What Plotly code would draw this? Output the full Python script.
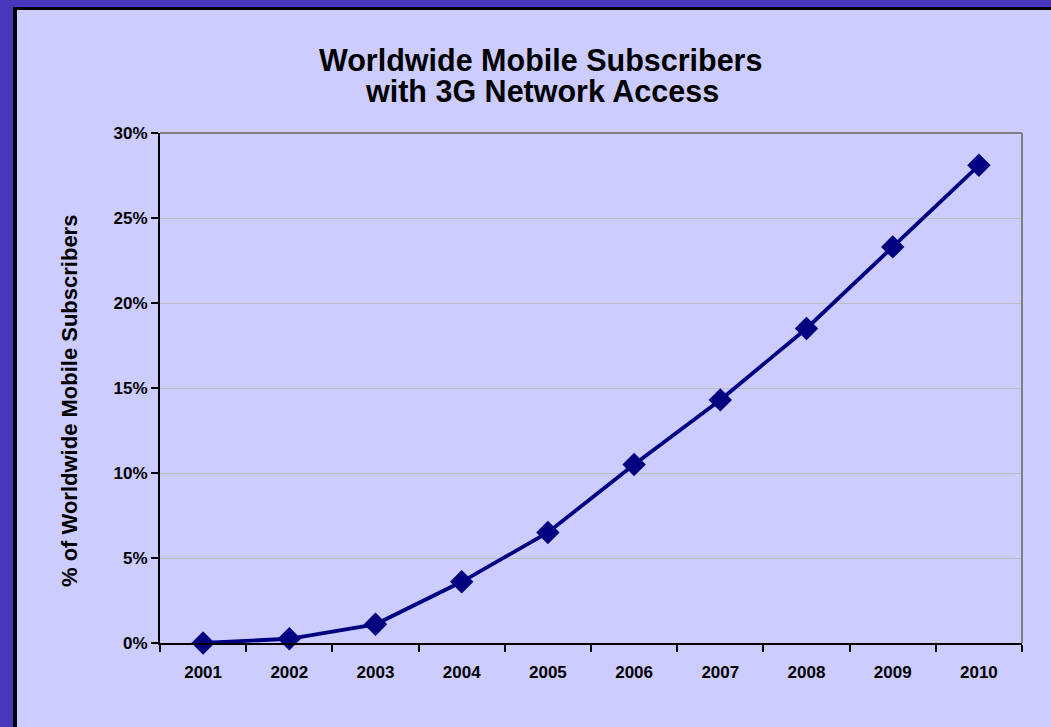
import plotly.graph_objects as go

# Share of worldwide mobile subscribers with 3G access, by year
years = ["2001", "2002", "2003", "2004", "2005", "2006", "2007", "2008", "2009", "2010"]
share_pct = [0.0, 0.25, 1.1, 3.6, 6.5, 10.5, 14.3, 18.5, 23.3, 28.1]

title_lines = ["Worldwide Mobile Subscribers", "with 3G Network Access"]
y_title = "% of Worldwide Mobile Subscribers"

W, H = 1051, 727
L, R, T, B = 160, 29, 133, 84
PW, PH = W - L - R, H - T - B

FONT = "Liberation Sans, Arial, sans-serif"
PURPLE = "#4A36BD"
PANEL = "#CCCCFF"
NAVY = "#000080"


def fx(px):
    """Pixel column -> paper x."""
    return (px - L) / PW


def fy(py):
    """Pixel row -> paper y."""
    return (H - B - py) / PH


fig = go.Figure()
fig.add_trace(go.Scatter(
    x=years, y=share_pct, mode="lines+markers",
    line=dict(color=NAVY, width=3.8),
    marker=dict(symbol="diamond", size=18, color=NAVY),
    cliponaxis=False, showlegend=False,
))

shapes = [
    # purple frame bands
    dict(type="rect", xref="paper", yref="paper", x0=fx(0), x1=fx(W), y0=fy(0), y1=fy(7),
         fillcolor=PURPLE, line=dict(width=0)),
    dict(type="rect", xref="paper", yref="paper", x0=fx(0), x1=fx(13), y0=fy(0), y1=fy(H),
         fillcolor=PURPLE, line=dict(width=0)),
    # black edge of the panel
    dict(type="rect", xref="paper", yref="paper", x0=fx(13), x1=fx(W), y0=fy(7), y1=fy(10),
         fillcolor="black", line=dict(width=0)),
    dict(type="rect", xref="paper", yref="paper", x0=fx(13), x1=fx(17), y0=fy(7), y1=fy(H),
         fillcolor="black", line=dict(width=0)),
    # gray top and right borders of the plot area
    dict(type="line", xref="paper", yref="paper", x0=0, x1=1, y0=1, y1=1,
         line=dict(color="#808080", width=2)),
    dict(type="line", xref="paper", yref="paper", x0=1, x1=1, y0=0, y1=1,
         line=dict(color="#808080", width=2)),
]

annotations = [
    dict(text=f"<b>{title_lines[0]}</b>", xref="paper", yref="paper", x=fx(540), y=fy(60),
         xanchor="center", yanchor="middle", showarrow=False,
         font=dict(family=FONT, size=30.5, color="black")),
    dict(text=f"<b>{title_lines[1]}</b>", xref="paper", yref="paper", x=fx(542), y=fy(91),
         xanchor="center", yanchor="middle", showarrow=False,
         font=dict(family=FONT, size=30.5, color="black")),
    dict(text=f"<b>{y_title}</b>", xref="paper", yref="paper", x=fx(69), y=fy(401),
         xanchor="center", yanchor="middle", textangle=-90, showarrow=False,
         font=dict(family=FONT, size=22, color="black")),
]

fig.update_layout(
    width=W, height=H,
    margin=dict(l=L, r=R, t=T, b=B, pad=0),
    paper_bgcolor=PANEL, plot_bgcolor=PANEL,
    font=dict(family=FONT, color="black"),
    shapes=shapes, annotations=annotations,
    xaxis=dict(
        type="category", range=[-0.5, 9.5], tickson="boundaries",
        ticks="outside", ticklen=7, tickwidth=2, tickcolor="black",
        ticklabelstandoff=13,
        showline=True, linecolor="black", linewidth=2,
        showgrid=False, zeroline=False,
        tickfont=dict(family=FONT, size=17, color="black", weight="bold"),
    ),
    yaxis=dict(
        range=[0, 30], tick0=0, dtick=5, ticksuffix="%",
        ticks="outside", ticklen=7, tickwidth=2, tickcolor="black",
        showline=True, linecolor="black", linewidth=2,
        showgrid=True, gridcolor="#BDBDBD", gridwidth=1, zeroline=False,
        tickfont=dict(family=FONT, size=17, color="black", weight="bold"),
    ),
)

fig.write_html("out.html")
